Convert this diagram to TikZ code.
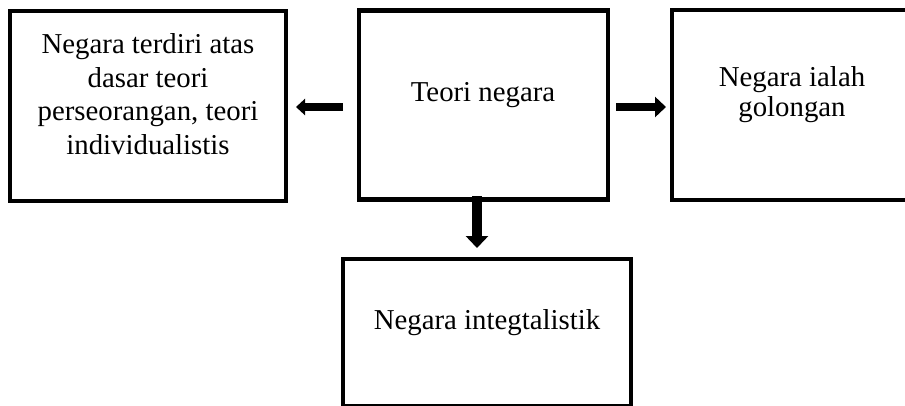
\documentclass[tikz,border=0pt]{standalone}
\usepackage{fontspec}
\setmainfont{Liberation Serif}
\usetikzlibrary{arrows.meta}

\begin{document}
\begin{tikzpicture}[x=1pt,y=1pt,yscale=-1,
    box/.style={draw,line width=4.5pt,inner sep=0pt,outer sep=0pt},
    boxtext/.style={font=\fontsize{28.8}{33.5}\selectfont,align=center,anchor=base,inner sep=0pt},
    blockarrow/.style={line width=8.5pt,-{Triangle[width=20pt,length=11pt]}},
    smallarrow/.style={line width=8pt,-{Triangle[width=16pt,length=9pt]}}]
    \useasboundingbox (0,0) rectangle (905,405);

    %Shape: Rectangle [persona]
    \node[box,minimum width=276pt,minimum height=190pt] (persona) at (148,106) {};
    %Shape: Rectangle [teori]
    \node[box,minimum width=249pt,minimum height=189pt] (teori) at (483.5,105) {};
    %Shape: Rectangle [golongan]
    \node[box,minimum width=240pt,minimum height=190pt] (golongan) at (792,105) {};
    %Shape: Rectangle [integral]
    \node[box,minimum width=288pt,minimum height=147pt] (integral) at (487,332.5) {};

    % Text Node (anchor base = last line)
    \node[boxtext] (tpersona) at (148,154) {Negara terdiri atas\\dasar teori\\perseorangan, teori\\individualistis};
    % Text Node
    \node[boxtext] (tteori) at (483,101) {Teori negara};
    % Text Node
    \node[boxtext,font=\fontsize{28.8}{30}\selectfont] (tgolongan) at (792,116) {Negara ialah\\golongan};
    % Text Node
    \node[boxtext] (tintegral) at (487,329) {Negara integtalistik};

    %Block Arrows
    \draw[smallarrow,shorten <=16pt,shorten >=10pt] ([yshift=2pt]teori.west) -- ([yshift=2pt]teori.west -| persona.east);
    \draw[blockarrow,shorten <=8pt,shorten >=6pt] ([yshift=2pt]teori.east) -- ([yshift=2pt]teori.east -| golongan.west);
    \draw[blockarrow,line width=10pt,-{Triangle[width=22pt,length=12pt]},shorten <=-3.5pt,shorten >=11pt] ([xshift=-6.5pt]teori.south) -- ([xshift=-6.5pt]teori.south |- integral.north);
\end{tikzpicture}
\end{document}
